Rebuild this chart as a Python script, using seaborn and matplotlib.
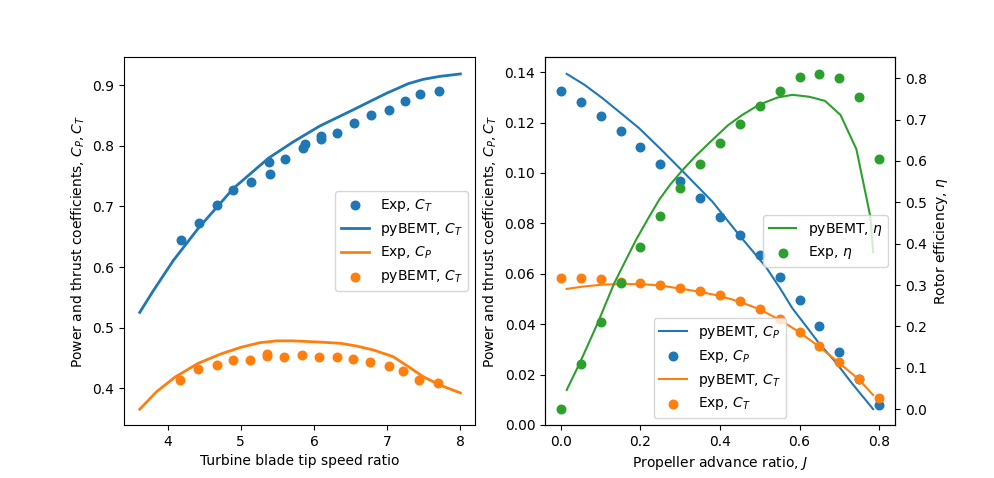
import matplotlib
matplotlib.use("Agg")
import matplotlib.pyplot as plt
import seaborn as sns

plt.rcParams["text.hinting"] = "auto"

# Left panel: turbine
tsr_exp_ct = [4.19, 4.43, 4.67, 4.90, 5.145, 5.38, 5.395, 5.61, 5.855, 5.88, 6.10, 6.10, 6.32, 6.55, 6.78, 7.02, 7.25, 7.45, 7.71]
ct_exp = [0.645, 0.672, 0.702, 0.727, 0.740, 0.773, 0.753, 0.778, 0.796, 0.803, 0.8165, 0.811, 0.821, 0.8375, 0.851, 0.859, 0.874, 0.8855, 0.890]
tsr_bemt_ct = [3.62, 3.806, 4.08, 4.42, 4.9, 5.38, 5.72, 6.08, 6.54, 6.99, 7.29, 7.49, 7.72, 8.0]
ct_bemt = [0.525, 0.561, 0.611, 0.664, 0.730, 0.780, 0.807, 0.833, 0.860, 0.887, 0.903, 0.910, 0.915, 0.919]
tsr_line_cp = [3.62, 3.85, 4.1, 4.42, 4.72, 4.99, 5.26, 5.49, 5.72, 6.08, 6.36, 6.58, 6.81, 7.08, 7.27, 7.49, 7.72, 8.0]
cp_line = [0.365, 0.394, 0.418, 0.441, 0.456, 0.467, 0.475, 0.478, 0.478, 0.476, 0.474, 0.4695, 0.463, 0.452, 0.437, 0.419, 0.405, 0.392]
tsr_pts_cp = [4.175, 4.42, 4.67, 4.89, 5.13, 5.36, 5.36, 5.59, 5.84, 6.07, 6.31, 6.54, 6.77, 7.02, 7.22, 7.44, 7.69]
cp_pts = [0.414, 0.431, 0.4375, 0.446, 0.446, 0.457, 0.453, 0.452, 0.454, 0.452, 0.451, 0.448, 0.4425, 0.436, 0.429, 0.413, 0.409]

# Right panel: propeller
j_exp = [0.0, 0.05, 0.1, 0.15, 0.2, 0.25, 0.3, 0.35, 0.4, 0.45, 0.5, 0.55, 0.6, 0.65, 0.7, 0.75, 0.8]
cp_exp = [0.1324, 0.128, 0.1224, 0.1165, 0.1101, 0.1034, 0.0967, 0.0899, 0.0824, 0.0752, 0.0673, 0.0586, 0.0495, 0.0391, 0.0288, 0.0182, 0.0078]
ct_exp_prop = [0.0582, 0.0582, 0.0578, 0.0568, 0.0562, 0.0554, 0.0542, 0.053, 0.0514, 0.049, 0.0459, 0.0419, 0.0368, 0.0312, 0.0249, 0.0181, 0.0106]
eta_exp = [0.0, 0.11, 0.212, 0.3045, 0.392, 0.4665, 0.5345, 0.592, 0.643, 0.689, 0.732, 0.7686, 0.8024, 0.81, 0.80, 0.754, 0.6035]
j_cp = [0.0146, 0.06, 0.105, 0.15, 0.197, 0.25, 0.306, 0.381, 0.448, 0.515, 0.55, 0.582, 0.62, 0.649, 0.69, 0.732, 0.785]
cp_bemt = [0.1393, 0.1349, 0.1296, 0.1238, 0.1177, 0.1096, 0.1007, 0.0886, 0.0754, 0.0628, 0.0545, 0.0463, 0.0385, 0.0324, 0.0251, 0.0165, 0.0063]
j_ct = [0.0146, 0.055, 0.105, 0.155, 0.201, 0.247, 0.297, 0.347, 0.397, 0.448, 0.498, 0.548, 0.598, 0.649, 0.699, 0.749, 0.785]
ct_bemt_prop = [0.054, 0.0549, 0.0557, 0.0559, 0.0559, 0.0554, 0.0542, 0.0529, 0.0513, 0.049, 0.046, 0.0419, 0.037, 0.0311, 0.0247, 0.0181, 0.0119]
j_eta = [0.0146, 0.049, 0.0924, 0.134, 0.1887, 0.22, 0.247, 0.275, 0.306, 0.339, 0.39, 0.42, 0.456, 0.498, 0.544, 0.582, 0.624, 0.664, 0.703, 0.743, 0.778, 0.785]
eta_bemt = [0.0467, 0.115, 0.208, 0.3045, 0.409, 0.462, 0.506, 0.543, 0.578, 0.612, 0.659, 0.686, 0.711, 0.7355, 0.753, 0.7596, 0.755, 0.745, 0.711, 0.628, 0.4655, 0.38]

BLUE, ORANGE, GREEN = "#1f77b4", "#ff7f0e", "#2ca02c"
W, H = 994, 478


def line(ax, x, y, color, label, lw):
    sns.lineplot(x=x, y=y, ax=ax, color=color, label=label, linewidth=lw,
                 estimator=None, sort=False, errorbar=None, zorder=2)


def pts(ax, x, y, color, label):
    sns.scatterplot(x=x, y=y, ax=ax, color=color, label=label, s=38,
                    edgecolor=color, linewidth=1, zorder=2)


fig = plt.figure(figsize=(W / 100, H / 100), dpi=100)
ax1 = fig.add_axes([124 / W, 1 - 425 / H, 351 / W, 368 / H])
ax2 = fig.add_axes([545 / W, 1 - 425 / H, 350 / W, 368 / H])

pts(ax1, tsr_exp_ct, ct_exp, BLUE, "Exp, $C_T$")
line(ax1, tsr_bemt_ct, ct_bemt, BLUE, "pyBEMT, $C_T$", 2)
line(ax1, tsr_line_cp, cp_line, ORANGE, "Exp, $C_P$", 2)
pts(ax1, tsr_pts_cp, cp_pts, ORANGE, "pyBEMT, $C_T$")
ax1.set_xlim(3.405, 8.2)
ax1.set_ylim(0.339, 0.947)
ax1.set_xticks([4, 5, 6, 7, 8])
ax1.set_xlabel("Turbine blade tip speed ratio")
ax1.set_ylabel("Power and thrust coefficients, $C_P, C_T$")
ax1.legend(loc="center right")

line(ax2, j_cp, cp_bemt, BLUE, "pyBEMT, $C_P$", 1.5)
pts(ax2, j_exp, cp_exp, BLUE, "Exp, $C_P$")
line(ax2, j_ct, ct_bemt_prop, ORANGE, "pyBEMT, $C_T$", 1.5)
pts(ax2, j_exp, ct_exp_prop, ORANGE, "Exp, $C_T$")
ax2.set_xlim(-0.04, 0.84)
ax2.set_ylim(0, 0.146)
ax2.set_xticks([0.0, 0.2, 0.4, 0.6, 0.8])
ax2.set_xlabel("Propeller advance ratio, $J$")
ax2.set_ylabel("Power and thrust coefficients, $C_P, C_T$")
ax2.legend(loc="lower center")

ax3 = ax2.twinx()
line(ax3, j_eta, eta_bemt, GREEN, r"pyBEMT, $\eta$", 1.5)
pts(ax3, j_exp, eta_exp, GREEN, r"Exp, $\eta$")
ax3.set_ylim(-0.038, 0.851)
ax3.set_ylabel(r"Rotor efficiency, $\eta$")
ax3.legend(loc="center right")

fig.savefig("out.png", dpi=100)
